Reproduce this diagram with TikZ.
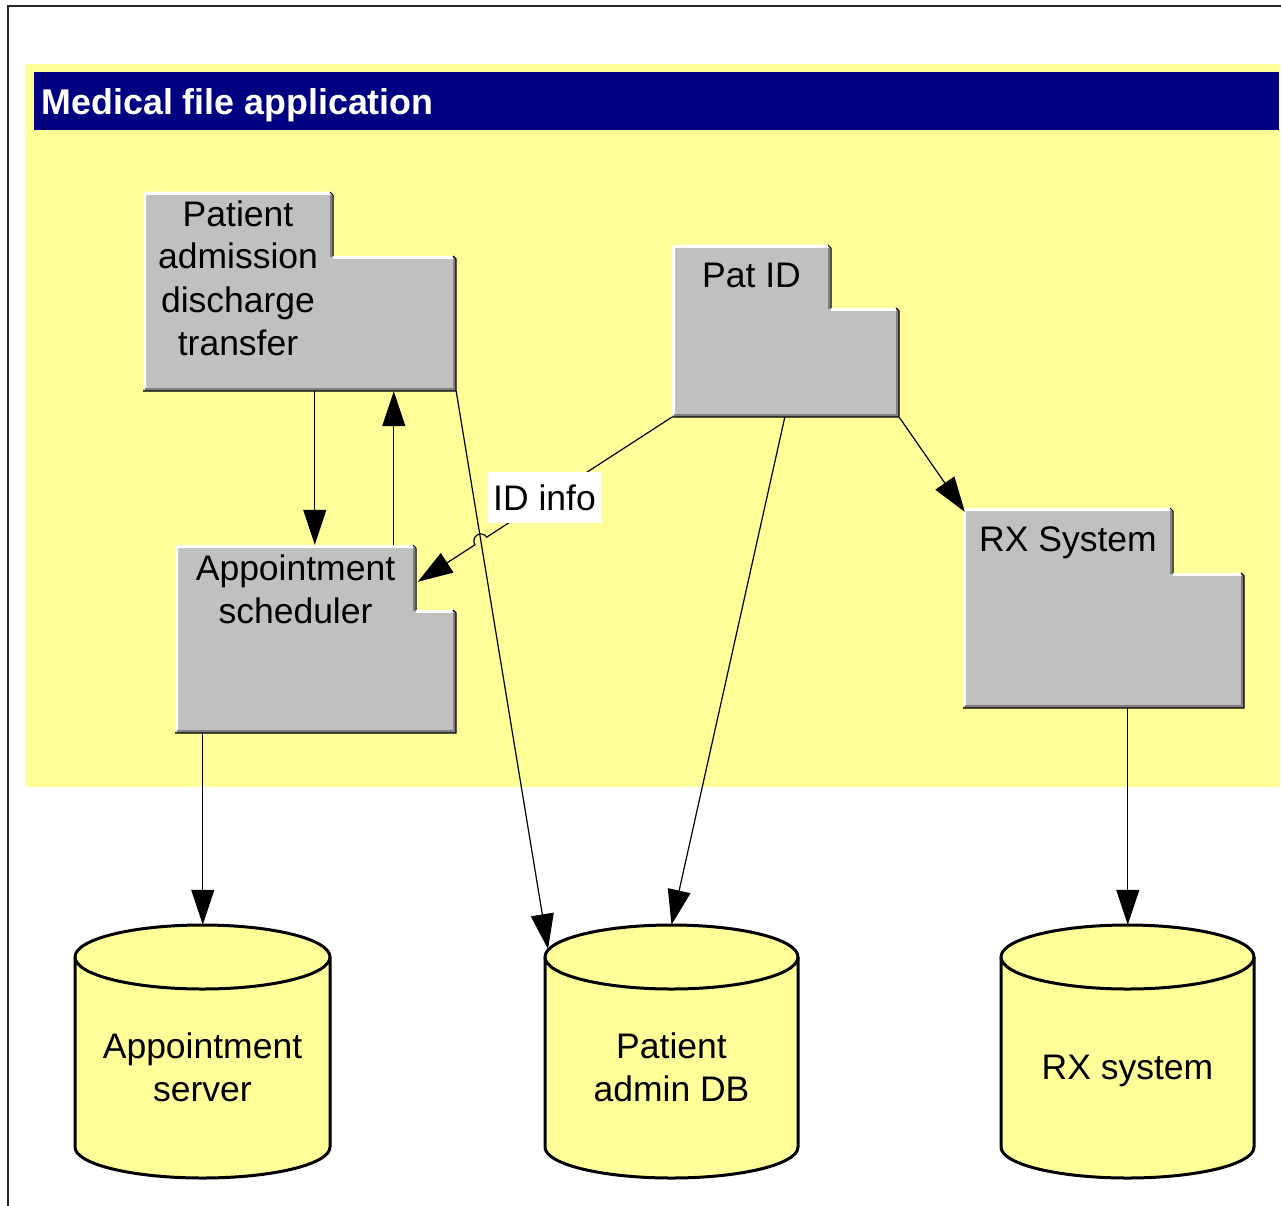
\documentclass[tikz,border=0pt]{standalone}
\usepackage{fontspec}
\setmainfont{Liberation Sans}
\usetikzlibrary{arrows.meta,calc,fit,intersections}
\definecolor{pkgfill}{HTML}{C0C0C0}
\definecolor{pkgdark}{HTML}{808080}
\definecolor{appyellow}{HTML}{FFFF99}
\definecolor{hdrblue}{HTML}{000080}
\tikzset{
  conn/.style={line width=1.2pt, black},
  arr/.style={conn, -{Triangle[length=35pt,width=23pt]}},
  lbl/.style={font=\fontsize{35.5}{43}\selectfont, inner sep=0pt, anchor=base, text=black},
  cylline/.style={line width=3pt, black, line join=round},
  boxfit/.style={inner sep=0pt, draw=none}
}
% #1 name, #2 x1, #3 y1 (tab top), #4 tab right, #5 body top, #6 x2, #7 y2
\newcommand\umlpkg[7]{%
  \fill[pkgfill] (#2,#3+3) -- (#2+3,#3) -- (#4-3,#3) -- (#4,#3+3) -- (#4,#5) -- (#6-3,#5) -- (#6,#5+3) -- (#6,#7) -- (#2,#7) -- cycle;
  \draw[white, line width=3pt] (#2+1.5,#7-2) -- (#2+1.5,#3+3) -- (#2+3,#3+1.5) -- (#4-3,#3+1.5);
  \draw[white, line width=3pt] (#4,#5+1.5) -- (#6-3,#5+1.5);
  \draw[pkgdark, line width=3pt] (#4-1.5,#3+3) -- (#4-1.5,#5+1);
  \draw[pkgdark, line width=3pt] (#6-1.5,#5+3) -- (#6-1.5,#7-1.5) -- (#2+2,#7-1.5);
  \draw[black, line width=1pt] (#4-3,#3) -- (#4,#3+3) -- (#4,#5);
  \draw[black, line width=1.2pt] (#6-3,#5) -- (#6,#5+3) -- (#6,#7) -- (#2,#7);
  \coordinate (#1-tl) at (#2,#3);
  \coordinate (#1-br) at (#6,#7);
  \node[boxfit, fit=(#1-tl)(#1-br)] (#1) {};
}
% #1 name, #2 centre x, #3 x radius
\newcommand\dbcyl[3]{%
  \fill[appyellow] (#2-#3,957) -- (#2-#3,1147) arc[start angle=180,end angle=360,x radius=#3pt,y radius=31pt] -- (#2+#3,957) arc[start angle=0,end angle=180,x radius=#3pt,y radius=32pt] -- cycle;
  \draw[cylline] (#2-#3,957) -- (#2-#3,1147) arc[start angle=180,end angle=360,x radius=#3pt,y radius=31pt] -- (#2+#3,957);
  \draw[cylline] (#2,957) ellipse [x radius=#3pt, y radius=32pt];
  \coordinate (#1-tl) at (#2-#3,925);
  \coordinate (#1-br) at (#2+#3,1178);
  \node[boxfit, fit=(#1-tl)(#1-br)] (#1) {};
}
\begin{document}
\begin{tikzpicture}[x=1pt,y=-1pt]
\useasboundingbox (0,0) rectangle (1281,1206);
\fill[white] (0,0) rectangle (1281,1206);
% outer frame
\draw[line width=2pt, black!85] (8,1206) -- (8,6) -- (1281,6);
% container
\fill[appyellow] (25,64) rectangle (1279,787);
\fill[hdrblue] (34,72) rectangle (1279,130);
\node[font=\bfseries\fontsize{35.8}{43}\selectfont, text=white, inner sep=0pt, anchor=base west] (title) at (41.5,115) {Medical file application};

% packages
\umlpkg{pa}{143}{192}{333}{256}{456}{391}
\umlpkg{patid}{672}{245}{831}{308}{899}{417}
\umlpkg{sched}{175}{545}{416}{610}{456}{733}
\umlpkg{rx}{963}{508}{1173}{573}{1244}{708}

\node[lbl] (pa-label) at (238,226) {\begin{tabular}[t]{@{}c@{}}Patient\\admission\\discharge\\transfer\end{tabular}};
\node[lbl] (patid-label) at (751.5,287) {Pat ID};
\node[lbl] (sched-label) at (295.5,580) {\begin{tabular}[t]{@{}c@{}}Appointment\\scheduler\end{tabular}};
\node[lbl] (rx-label) at (1068,551) {RX System};

% databases
\dbcyl{appt}{202.5}{127.5}
\dbcyl{db}{671.5}{126.5}
\dbcyl{rxdb}{1127.5}{126.5}
\node[lbl] (appt-label) at (202.5,1058) {\begin{tabular}[t]{@{}c@{}}Appointment\\server\end{tabular}};
\node[lbl] (db-label) at (671.5,1058) {\begin{tabular}[t]{@{}c@{}}Patient\\admin DB\end{tabular}};
\node[lbl] (rxdb-label) at (1127.5,1079) {RX system};

% connectors
\coordinate (dbhit) at (548,949);
\coordinate (idtip) at ([xshift=243pt,yshift=-37pt]sched.north west);

\draw[arr] ([xshift=172pt]pa.south west) -- ([xshift=172pt]pa.south west |- sched.north);
\draw[arr] ([xshift=219pt]sched.north west) -- ([xshift=219pt]sched.north west |- pa.south);
\draw[arr, name path=padb] (pa.south east) -- (dbhit);
\path[name path=idl] (patid.south west) -- (idtip);
\path[name intersections={of=padb and idl, by=hop}];
\coordinate (hopA) at ($(hop)!7pt!(patid.south west)$);
\draw[arr] (patid.south west) -- (hopA) arc[start angle=33, end angle=213, radius=7pt] -- (idtip);
\node[fill=white, inner sep=0pt, minimum width=113pt, minimum height=51pt, font=\fontsize{35.5}{43}\selectfont] (idinfo) at (544.5,497.5) {ID info};
\draw[arr] ([xshift=113pt]patid.south west) -- (db.north);
\draw[arr] (patid.south east) -- ([shift={(2pt,-4pt)}]rx.north west);
\draw[arr] ([xshift=165pt]rx.south west) -- ([xshift=165pt]rx.south west |- rxdb.north);
\draw[arr] ([xshift=28pt]sched.south west) -- ([xshift=28pt]sched.south west |- appt.north);
\end{tikzpicture}
\end{document}
